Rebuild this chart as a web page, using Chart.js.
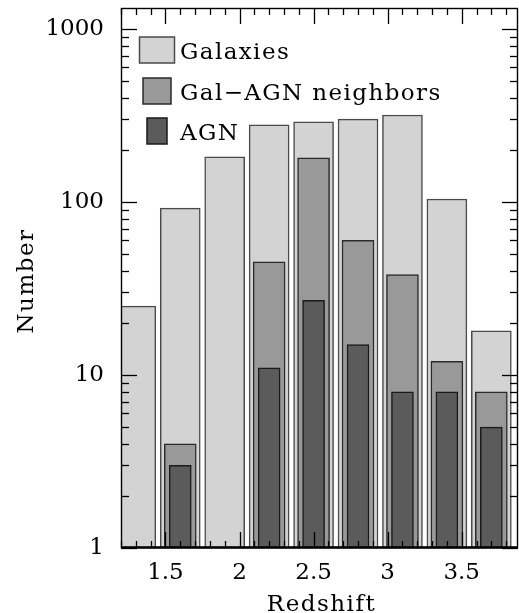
<!DOCTYPE html>
<html><head><meta charset="utf-8">
<script src="https://cdn.jsdelivr.net/npm/chart.js@4/dist/chart.umd.min.js"></script>
<style>html,body{margin:0;padding:0;background:#fff}</style>
</head><body>
<canvas id="c" width="519" height="613"></canvas>
<script>
// ---- data ----
const binCenters = [1.3, 1.6, 1.9, 2.2, 2.5, 2.8, 3.1, 3.4, 3.7];
const galaxies   = [25, 92, 182, 279, 290, 301, 318, 104, 18];
const neighbors  = [null, 4, null, 45, 180, 60, 38, 12, 8];
const agn        = [null, 3, null, 11, 27, 15, 8, 8, 5];
const seriesLabels = ['Galaxies', 'Gal\u2212AGN neighbors', 'AGN'];
const xTickValues = [1.5, 2, 2.5, 3, 3.5];
const yTickValues = [1, 10, 100, 1000];
const xTitle = 'Redshift';
const yTitle = 'Number';

const FONT = "'DejaVu Serif'";
const fills = ['#d3d3d3', '#999999', '#5b5b5b'];
const borders = ['#4a4a4a', '#2a2a2a', '#1a1a1a'];
const widths = [40, 32, 22];
const legendBoxW = [35, 28, 20];

function pts(arr){ return binCenters.map((x,i)=>({x, y: arr[i]})).filter(p=>p.y!=null); }

const decor = {
  id: 'decor',
  afterDraw(chart){
    const ctx = chart.ctx;
    const ca = chart.chartArea;
    const L = ca.left, R = ca.right, T = ca.top, B = ca.bottom;
    const xs = chart.scales.x, ys = chart.scales.y;
    ctx.save();
    ctx.letterSpacing = '0px';
    ctx.strokeStyle = '#000';
    ctx.lineWidth = 1.3;
    function seg(a,b,c,d){ ctx.beginPath(); ctx.moveTo(a,b); ctx.lineTo(c,d); ctx.stroke(); }
    // y ticks (log)
    for (let d=0; d<=3; d++) for (let m=1; m<=9; m++){
      const v = m*Math.pow(10,d);
      if (v < ys.min || v > ys.max) continue;
      const py = Math.round(ys.getPixelForValue(v)) + 0.5;
      const len = m===1 ? 16 : 8;
      seg(L, py, L+len, py);
      seg(R, py, R-len, py);
    }
    // x ticks every 0.1
    for (let k=12; k<=39; k++){
      const v = k/10;
      if (v < xs.min || v > xs.max) continue;
      const px = Math.round(xs.getPixelForValue(v)) + 0.5;
      const len = (k%5===0) ? 16 : 7;
      seg(px, B, px, B-len);
      seg(px, T, px, T+len);
    }
    ctx.lineWidth = 1.4;
    ctx.strokeRect(L+0.5, T+0.5, R-L-1, B-T-1);
    ctx.lineWidth = 2.5;
    seg(L, B-0.5, R, B-0.5);

    // legend
    ctx.font = '23px ' + FONT;
    ctx.letterSpacing = '1.4px';
    const rowsY = [50, 91, 131];
    const cx = L + 36;
    chart.data.datasets.forEach((ds,i)=>{
      const bw = legendBoxW[i], bh = 26;
      ctx.fillStyle = ds.backgroundColor;
      ctx.fillRect(cx - bw/2, rowsY[i]-bh/2, bw, bh);
      ctx.lineWidth = 1.5;
      ctx.strokeStyle = ds.borderColor;
      ctx.strokeRect(cx - bw/2, rowsY[i]-bh/2, bw, bh);
      ctx.fillStyle = '#000';
      ctx.textAlign = 'left';
      ctx.textBaseline = 'alphabetic';
      ctx.fillText(ds.label, cx + 23, rowsY[i] + 9);
    });

    // axis titles
    ctx.letterSpacing = '1.5px';
    ctx.textAlign = 'center';
    ctx.textBaseline = 'alphabetic';
    ctx.fillText(xTitle, (L+R)/2 + 2, 611);
    ctx.save();
    ctx.translate(33, (T+B)/2 + 3);
    ctx.rotate(-Math.PI/2);
    ctx.fillText(yTitle, 0, 0);
    ctx.restore();
    ctx.restore();
  }
};

new Chart(document.getElementById('c'), {
  type: 'bar',
  data: {
    datasets: [
      {label: seriesLabels[0], data: pts(galaxies), backgroundColor: fills[0], borderColor: borders[0], borderWidth: 1.5, barThickness: widths[0], grouped: false, order: 3},
      {label: seriesLabels[1], data: pts(neighbors), backgroundColor: fills[1], borderColor: borders[1], borderWidth: 1.5, barThickness: widths[1], grouped: false, order: 2},
      {label: seriesLabels[2], data: pts(agn), backgroundColor: fills[2], borderColor: borders[2], borderWidth: 1.5, barThickness: widths[2], grouped: false, order: 1}
    ]
  },
  options: {
    responsive: false,
    animation: false,
    devicePixelRatio: 1,
    layout: {padding: {top: 8, right: 1, left: 0, bottom: 0}},
    plugins: {legend: {display: false}, tooltip: {enabled: false}},
    scales: {
      x: {
        type: 'linear', min: 1.2, max: 3.88, offset: false,
        grid: {display: false, drawTicks: false}, border: {display: false},
        afterBuildTicks: s => { s.ticks = xTickValues.map(v=>({value:v})); },
        afterFit: s => { s.height = 65; s.paddingLeft = 0; s.paddingRight = 0; s.paddingTop = 0; s.paddingBottom = 0; },
        ticks: {font: {family: FONT, size: 23}, color: '#000', padding: 11, maxRotation: 0, autoSkip: false, callback: v => String(v)}
      },
      y: {
        type: 'logarithmic', min: 1, max: 1320,
        grid: {display: false, drawTicks: false}, border: {display: false},
        afterBuildTicks: s => { s.ticks = yTickValues.map(v=>({value:v})); },
        afterFit: s => { s.width = 121; s.paddingTop = 0; s.paddingBottom = 0; s.paddingLeft = 0; s.paddingRight = 0; },
        ticks: {font: {family: FONT, size: 23}, color: '#000', padding: 17, autoSkip: false, callback: v => String(v)}
      }
    }
  },
  plugins: [decor]
});
</script>
</body></html>
